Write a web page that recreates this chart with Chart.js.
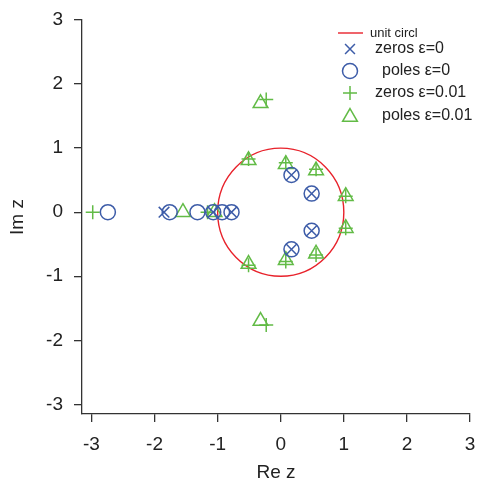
<!DOCTYPE html>
<html>
<head>
<meta charset="utf-8">
<script src="https://cdn.jsdelivr.net/npm/chart.js@4/dist/chart.umd.min.js"></script>
<style>
  html, body { margin: 0; padding: 0; background: #fff; overflow: hidden; }
  #wrap { width: 478px; height: 479px; }
</style>
</head>
<body>
<div id="wrap"><canvas id="grafico-pz"></canvas></div>
<script>
// zeros / poles (Re, Im)
const zerosEps0Re = [-1.85, -1.07, -0.78, 0.17, 0.17, 0.49, 0.49];
const zerosEps0Im = [0, 0, 0, 0.58, -0.58, 0.29, -0.29];
const polesEps0Re = [-2.74, -1.76, -1.32, -1.07, -0.93, -0.78, 0.17, 0.17, 0.49, 0.49];
const polesEps0Im = [0, 0, 0, 0, 0, 0, 0.58, -0.58, 0.29, -0.29];
const zerosEps1Re = [-2.98, -1.16, -0.23, -0.23, -0.51, -0.51, 0.08, 0.08, 0.56, 0.56, 1.03, 1.03];
const zerosEps1Im = [0, 0, 1.76, -1.76, 0.83, -0.83, 0.77, -0.77, 0.67, -0.67, 0.25, -0.25];
const polesEps1Re = [-1.55, -1.05, -0.32, -0.32, -0.51, -0.51, 0.08, 0.08, 0.56, 0.56, 1.03, 1.03];
const polesEps1Im = [0, 0, 1.70, -1.70, 0.81, -0.81, 0.75, -0.75, 0.65, -0.65, 0.25, -0.25];

const tickValues = [-3, -2, -1, 0, 1, 2, 3];
const legendLabels = ['unit circl', 'zeros \u03b5=0', 'poles \u03b5=0', 'zeros \u03b5=0.01', 'poles \u03b5=0.01'];
const unitRadius = 1;

const AZUL = '#3d5ca8';
const VERDE = '#62bb46';
const VERMELHO = '#e8222b';
const FONTE = "'Liberation Sans', Arial, sans-serif";

const pares = (re, im) => re.map((x, i) => ({ x, y: im[i] }));

// círculo unitário desenhado pelas escalas
const circuloPlugin = {
  id: 'circulo',
  beforeDatasetsDraw(chart) {
    const { ctx, scales: { x, y } } = chart;
    const cx = x.getPixelForValue(0);
    const cy = y.getPixelForValue(0);
    const rx = x.getPixelForValue(unitRadius) - cx;
    const ry = cy - y.getPixelForValue(unitRadius);
    ctx.save();
    ctx.strokeStyle = VERMELHO;
    ctx.lineWidth = 1.4;
    ctx.beginPath();
    ctx.ellipse(cx, cy, rx, ry, 0, 0, Math.PI * 2);
    ctx.stroke();
    ctx.restore();
  }
};

// legenda no canto superior direito
const legendaPlugin = {
  id: 'legenda',
  afterDraw(chart) {
    const ctx = chart.ctx;
    const estilos = [null,
      { pointStyle: 'crossRot', radius: 7, cor: AZUL },
      { pointStyle: 'circle', radius: 7.5, cor: AZUL },
      { pointStyle: 'cross', radius: 7, cor: VERDE },
      { pointStyle: 'triangle', radius: 8.5, cor: VERDE }];
    const linhasY = [33, 49, 71, 93, 116];
    const textoX = [370, 375, 382, 375, 382];
    ctx.save();
    // linha do círculo
    ctx.strokeStyle = VERMELHO;
    ctx.lineWidth = 1.4;
    ctx.beginPath();
    ctx.moveTo(338, linhasY[0]);
    ctx.lineTo(363, linhasY[0]);
    ctx.stroke();
    legendLabels.forEach((txt, i) => {
      if (i > 0) {
        const e = estilos[i];
        ctx.strokeStyle = e.cor;
        ctx.fillStyle = 'rgba(0,0,0,0)';
        ctx.lineWidth = 1.5;
        Chart.helpers.drawPoint(ctx, {
          pointStyle: e.pointStyle, radius: e.radius, rotation: 0, borderWidth: 1.5
        }, 350, linhasY[i] + (e.pointStyle === 'triangle' ? 1 : 0));
      }
      ctx.fillStyle = '#222';
      ctx.textBaseline = 'middle';
      ctx.font = (i === 0 ? '13px ' : '16px ') + FONTE;
      ctx.fillText(txt, textoX[i], linhasY[i]);
    });
    ctx.restore();
  }
};

const eixo = (titulo, pad) => ({
  type: 'linear',
  min: -3.15,
  max: 3,
  afterBuildTicks: (scale) => { scale.ticks = tickValues.map(v => ({ value: v })); },
  ticks: {
    color: '#222',
    font: { family: FONTE, size: 19 },
    padding: pad,
    includeBounds: false
  },
  grid: {
    drawOnChartArea: false,
    drawTicks: true,
    tickLength: 8,
    color: '#333',
    lineWidth: 1.3
  },
  border: { display: true, color: '#333', width: 1.3 },
  title: {
    display: true,
    text: titulo,
    color: '#222',
    font: { family: FONTE, size: 19, lineHeight: 1 },
    padding: { top: 8, bottom: -3 }
  }
});

const escalaX = eixo('Re z', 11);
escalaX.afterFit = (scale) => {
  scale.height = 65;
  scale.paddingLeft = 0;
  scale.paddingRight = 0;
};
const escalaY = eixo('Im z', 11);
escalaY.afterFit = (scale) => {
  scale.width = 82;
  scale.paddingTop = 0;
  scale.paddingBottom = 0;
};

const ctxPz = document.getElementById('grafico-pz').getContext('2d');
new Chart(ctxPz, {
  type: 'scatter',
  data: {
    datasets: [
      {
        label: legendLabels[1],
        data: pares(zerosEps0Re, zerosEps0Im),
        pointStyle: 'crossRot',
        pointRadius: 7.5,
        borderColor: AZUL,
        backgroundColor: 'transparent',
        borderWidth: 1.5
      },
      {
        label: legendLabels[2],
        data: pares(polesEps0Re, polesEps0Im),
        pointStyle: 'circle',
        pointRadius: 7.5,
        borderColor: AZUL,
        backgroundColor: 'transparent',
        borderWidth: 1.5
      },
      {
        label: legendLabels[3],
        data: pares(zerosEps1Re, zerosEps1Im),
        pointStyle: 'cross',
        pointRadius: 7,
        borderColor: VERDE,
        backgroundColor: 'transparent',
        borderWidth: 1.5
      },
      {
        label: legendLabels[4],
        data: pares(polesEps1Re, polesEps1Im),
        pointStyle: 'triangle',
        pointRadius: 8.5,
        borderColor: VERDE,
        backgroundColor: 'transparent',
        borderWidth: 1.5
      }
    ]
  },
  options: {
    responsive: true,
    maintainAspectRatio: false,
    animation: false,
    layout: { autoPadding: false, padding: { left: 0, right: 8, top: 20, bottom: 0 } },
    plugins: {
      legend: { display: false },
      tooltip: { enabled: false }
    },
    scales: { x: escalaX, y: escalaY }
  },
  plugins: [circuloPlugin, legendaPlugin]
});
</script>
</body>
</html>
